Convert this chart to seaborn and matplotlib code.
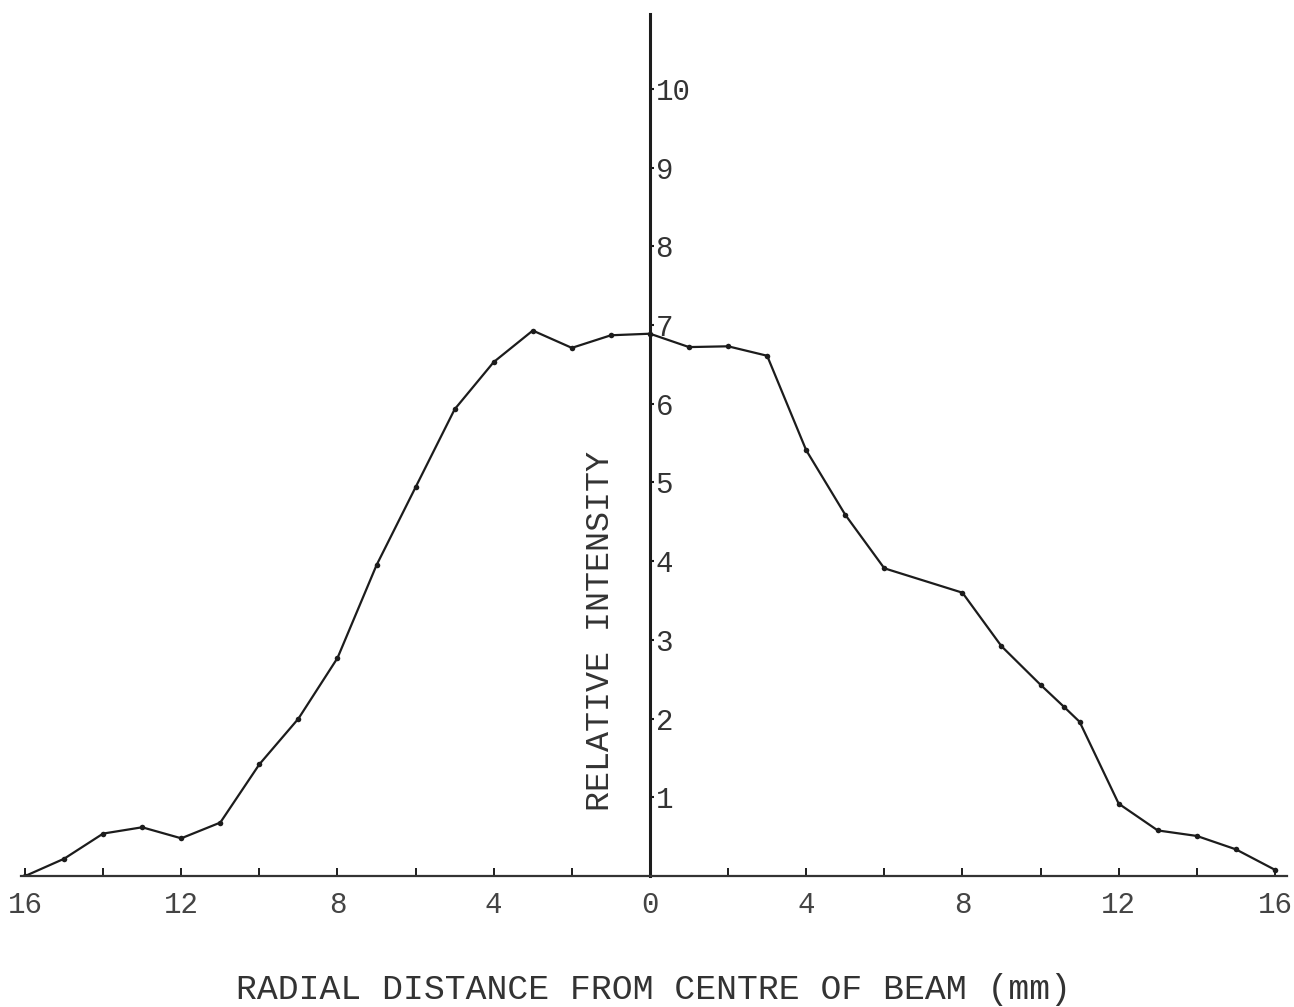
import matplotlib
matplotlib.use("Agg")
import matplotlib.pyplot as plt
import seaborn as sns
import pandas as pd

# Data
radial_mm = [-16, -15, -14, -13, -12, -11, -10, -9, -8, -7, -6, -5, -4, -3, -2, -1, 0,
             1, 2, 3, 4, 5, 6, 8, 9, 10, 10.6, 11, 12, 13, 14, 15, 16]
intensity = [0.0, 0.22, 0.54, 0.62, 0.48, 0.68, 1.42, 2.0, 2.77, 3.95, 4.94, 5.93, 6.53, 6.93, 6.71, 6.87, 6.89,
             6.72, 6.73, 6.61, 5.41, 4.59, 3.91, 3.60, 2.92, 2.43, 2.15, 1.96, 0.92, 0.58, 0.51, 0.34, 0.08]
x_ticks = [-16, -12, -8, -4, 0, 4, 8, 12, 16]
x_tick_labels = ["16", "12", "8", "4", "0", "4", "8", "12", "16"]
x_minor_ticks = [-14, -10, -6, -2, 2, 6, 10, 14]
y_ticks = [1, 2, 3, 4, 5, 6, 7, 8, 9, 10]
y_tick_labels = ["1", "2", "3", "4", "5", "6", "7", "8", "9", "10"]

df = pd.DataFrame({"x": radial_mm, "y": intensity})

sns.set_style("white")
plt.rcParams["font.family"] = ["Liberation Mono", "DejaVu Sans Mono"]

ink = "#1c1c1c"
fig = plt.figure(figsize=(12.94, 10.07), dpi=100)
ax = fig.add_axes([0.0163, 0.130, 0.978, 0.856])

sns.lineplot(data=df, x="x", y="y", sort=False, color=ink, linewidth=1.6,
             marker="o", markersize=4, markeredgewidth=0, ax=ax)

ax.set_xlim(-16.1, 16.3)
ax.set_ylim(0, 10.95)

# Spines: x axis at y=0, y axis at x=0 (labels on its right side)
for s in ["top", "left"]:
    ax.spines[s].set_visible(False)
ax.spines["right"].set_position(("data", 0))
ax.spines["right"].set_linewidth(2.2)
ax.spines["right"].set_color(ink)
ax.spines["bottom"].set_linewidth(1.6)
ax.spines["bottom"].set_color("#333333")

ax.yaxis.set_ticks_position("right")
ax.yaxis.set_label_position("left")
ax.set_yticks(y_ticks)
ax.set_yticklabels(y_tick_labels)
ax.tick_params(axis="y", direction="out", length=3, width=1.5, color=ink,
               labelsize=21, labelcolor="#333333", pad=1)

ax.set_xticks(x_ticks)
ax.set_xticklabels(x_tick_labels)
ax.set_xticks(x_minor_ticks, minor=True)
ax.tick_params(axis="x", which="both", direction="in", length=6, width=1.4, color=ink,
               labelsize=21, labelcolor="#444444", pad=11, bottom=True)

ax.set_ylabel("RELATIVE INTENSITY", fontsize=24, color="#333333")
ax.yaxis.set_label_coords(0.470, 0.284)
ax.set_xlabel("RADIAL DISTANCE FROM CENTRE OF BEAM (mm)", fontsize=25, color="#333333")
ax.xaxis.set_label_coords(0.5, -0.112)

ax.grid(False)
fig.savefig("out.png", dpi=100, facecolor="white")
